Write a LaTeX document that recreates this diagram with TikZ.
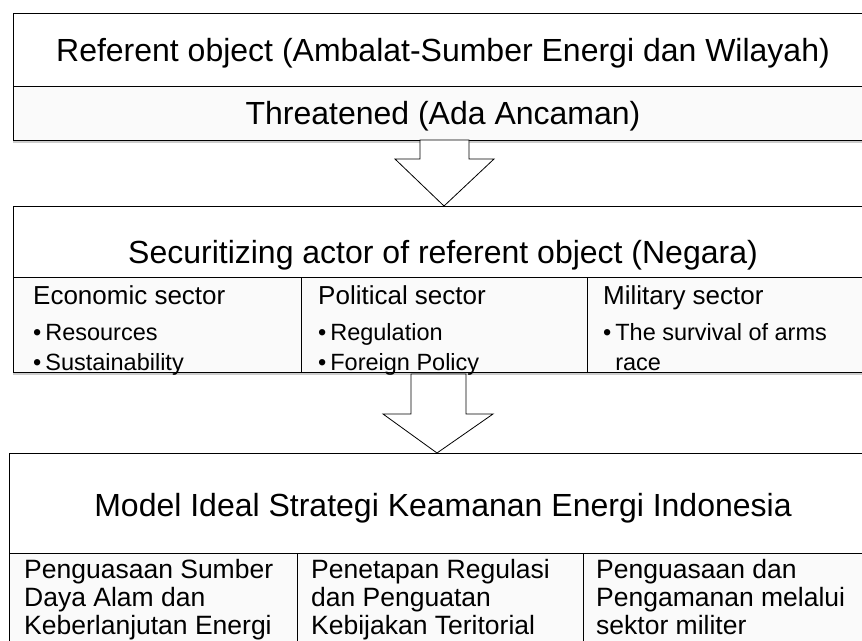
\documentclass[tikz,border=0pt]{standalone}
\usepackage{fontspec}
\setmainfont{Liberation Sans}
\usetikzlibrary{shadows}

\begin{document}
\begin{tikzpicture}[x=1pt,y=-1pt]
      \tikzstyle panel=[draw=black, thick, fill=white,
      drop shadow={shadow xshift=0pt, shadow yshift=-2.5pt, opacity=0.4}]
      \tikzstyle blockarrow=[draw=black, thick, fill=white, line join=miter]
      \tikzstyle titletext=[anchor=base, inner sep=0pt, font=\fontsize{32}{36}\selectfont]
      \tikzstyle headtext=[anchor=base west, inner sep=0pt, font=\fontsize{26}{28}\selectfont]
      \tikzstyle itemtext=[anchor=base west, inner sep=0pt, font=\fontsize{23.5}{29.5}\selectfont, align=left]
      \tikzstyle celltext=[anchor=base west, inner sep=0pt, font=\fontsize{26.5}{28}\selectfont, align=left]
      \useasboundingbox (0,0) rectangle (862,640);
      \clip (0,0) rectangle (862,640);
      % referent object
      \draw [panel] (13,13) rectangle (880,140);
      \draw [thick, fill=black!2] (13,86) rectangle (880,140);
      \node [titletext] (referent) at (443,61) {Referent object (Ambalat-Sumber Energi dan Wilayah)};
      \node [titletext] (threat) at (443,124) {Threatened (Ada Ancaman)};
      \draw [blockarrow] (420,140) -- (469,140) -- (469,159) -- (494,159)
        -- (444,206) -- (395,159) -- (420,159) -- cycle;
      % securitizing actor
      \draw [panel] (13,206) rectangle (880,372);
      \draw [thick, fill=black!2] (13,277) rectangle (880,372);
      \draw [thick] (301,277) -- (301,372);
      \draw [thick] (587,277) -- (587,372);
      \node [titletext] (actor) at (443,263) {Securitizing actor of referent object (Negara)};
      \node [headtext] (econ) at (33,304) {Economic sector};
      \node [headtext] (pol) at (318,304) {Political sector};
      \node [headtext] (mil) at (603,304) {Military sector};
      \node [itemtext] (econitems) at (33,370) {•\,Resources\\•\,Sustainability};
      \node [itemtext] (politems) at (318,370) {•\,Regulation\\•\,Foreign Policy};
      \node [itemtext] (milItems) at (603,370) {•\,The survival of arms\\\phantom{•\,}race};
      \draw [blockarrow] (411,374) -- (466,374) -- (466,414) -- (493,414)
        -- (437,453) -- (383,414) -- (411,414) -- cycle;
      % ideal model
      \draw [panel] (9,453) rectangle (880,700);
      \draw [thick, fill=black!2] (9,553) rectangle (880,700);
      \draw [thick] (297,553) -- (297,700);
      \draw [thick] (583,553) -- (583,700);
      \node [titletext] (model) at (443,516) {Model Ideal Strategi Keamanan Energi Indonesia};
      \node [celltext] (resource) at (24,634) {Penguasaan Sumber\\Daya Alam dan\\Keberlanjutan Energi};
      \node [celltext] (policy) at (311,634) {Penetapan Regulasi\\dan Penguatan\\Kebijakan Teritorial};
      \node [celltext] (defence) at (596,634) {Penguasaan dan\\Pengamanan melalui\\sektor militer};
    \end{tikzpicture}
\end{document}
